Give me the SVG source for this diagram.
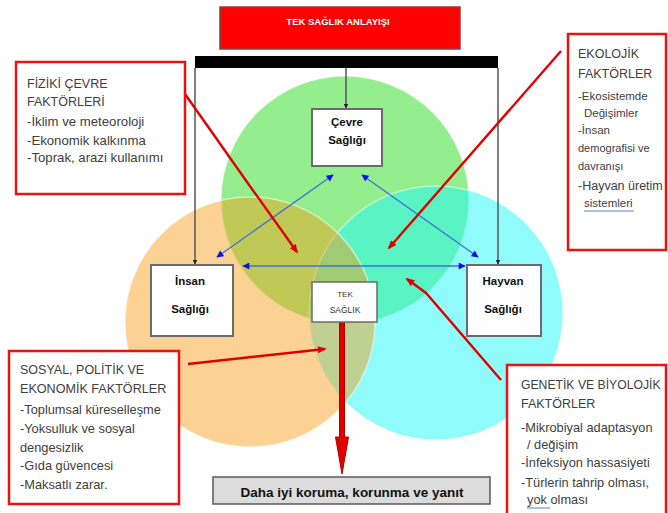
<svg xmlns="http://www.w3.org/2000/svg" width="668" height="513" viewBox="0 0 668 513">
<style>
text{font-family:"Liberation Sans",Arial,sans-serif}
.fbox{fill:#fff;stroke:#ee1111;stroke-width:2.5}
.ft{fill:#404040}
.fi{fill:#404040}
.node{fill:#fff;stroke:#6b6b6b}
.nt{fill:#111;font-size:11.5px;font-weight:bold;text-anchor:middle}
.blk{stroke:#555;stroke-width:1.5;fill:none}
.blue{stroke:#3f72d4;stroke-width:1.3;fill:none}
.red{stroke:#e00000;stroke-width:2.4;fill:none}
.circ{stroke:#fff;stroke-opacity:0.5;stroke-width:1.5}
</style>
<defs>
<marker id="mb" viewBox="0 0 10 10" refX="9" refY="5" markerWidth="5" markerHeight="5" markerUnits="userSpaceOnUse" orient="auto-start-reverse"><path d="M0,0L10,5L0,10z" fill="#222"/></marker>
<marker id="mu" viewBox="0 0 10 10" refX="9" refY="5" markerWidth="8" markerHeight="7" markerUnits="userSpaceOnUse" orient="auto-start-reverse"><path d="M0,0L10,5L0,10z" fill="#1010e0"/></marker>
<marker id="mr" viewBox="0 0 10 10" refX="8" refY="5" markerWidth="9" markerHeight="9" markerUnits="userSpaceOnUse" orient="auto"><path d="M0,1L10,5L0,9z" fill="#e00000"/></marker>
</defs>
<rect width="668" height="513" fill="#fff"/>

<g id="circles">
<circle class="circ" cx="345" cy="200" r="124" fill="#94ee8e"/>
<circle class="circ" cx="436" cy="313" r="127" fill="#1ff7f7" fill-opacity="0.5"/>
<circle class="circ" cx="250" cy="322" r="125" fill="#f99c12" fill-opacity="0.45"/>
</g>

<g id="title">
<rect x="220" y="7" width="240" height="42" fill="#ff0000" stroke="#8c3c3c" stroke-width="1.5"/>
<text x="338" y="25" fill="#fff" font-size="9.5" font-weight="bold" text-anchor="middle">TEK SAĞLIK ANLAYIŞI</text>
</g>

<g id="bar">
<rect x="195" y="56" width="303" height="12" fill="#000"/>
</g>

<g id="connectors">
<line class="blk" x1="195" y1="68" x2="195" y2="264" marker-end="url(#mb)"/>
<line class="blk" x1="498" y1="68" x2="498" y2="264" marker-end="url(#mb)"/>
<line class="blk" x1="346" y1="68" x2="346" y2="108" marker-end="url(#mb)"/>
<line class="blue" x1="333" y1="175" x2="217" y2="257" marker-start="url(#mu)" marker-end="url(#mu)"/>
<line class="blue" x1="362" y1="175" x2="478" y2="257" marker-start="url(#mu)" marker-end="url(#mu)"/>
<line class="blue" x1="243" y1="266" x2="465" y2="266" marker-start="url(#mu)" marker-end="url(#mu)"/>
<polyline class="red" points="185,94 247,182 297,252" marker-end="url(#mr)"/>
<line class="red" x1="561" y1="51" x2="389" y2="248" marker-end="url(#mr)"/>
<polyline class="red" points="501,380 426,293 407,279" marker-end="url(#mr)"/>
<line class="red" x1="188" y1="364" x2="325" y2="349" marker-end="url(#mr)"/>
<path d="M339.5,322H344.5V437H348.5L342,474L335.5,437H339.5Z" fill="#e00000" stroke="#b00000" stroke-width="1"/>
</g>

<g id="cevre">
<rect class="node" x="312" y="109" width="70" height="57" stroke-width="2"/>
<text class="nt" x="347" y="126">Çevre</text>
<text class="nt" x="347" y="144">Sağlığı</text>
</g>

<g id="insan">
<rect class="node" x="151" y="265" width="82" height="71" stroke-width="2"/>
<text class="nt" x="190" y="285">İnsan</text>
<text class="nt" x="190" y="313">Sağlığı</text>
</g>

<g id="hayvan">
<rect class="node" x="467" y="265" width="74" height="71" stroke-width="2"/>
<text class="nt" x="503" y="285">Hayvan</text>
<text class="nt" x="503" y="313">Sağlığı</text>
</g>

<g id="tek">
<rect class="node" x="312" y="282" width="65" height="40" stroke-width="1.5"/>
<text x="345" y="297" fill="#333" font-size="8" text-anchor="middle">TEK</text>
<text x="345" y="313" fill="#333" font-size="8.5" text-anchor="middle">SAĞLIK</text>
</g>

<g id="sonuc">
<rect x="213" y="477" width="277" height="27" fill="#dcdcdc" stroke="#595959" stroke-width="1.5"/>
<text x="352" y="497" fill="#111" font-size="13.5" font-weight="bold" text-anchor="middle">Daha iyi koruma, korunma ve yanıt</text>
</g>

<g id="fiziki">
<rect class="fbox" x="16" y="62" width="169" height="132"/>
<text class="ft" x="27" y="88" font-size="12.5">FİZİKİ ÇEVRE</text>
<text class="ft" x="27" y="106" font-size="12.5">FAKTÖRLERİ</text>
<text class="fi" x="27" y="126" font-size="13.2">-İklim ve meteoroloji</text>
<text class="fi" x="27" y="145" font-size="13.2">-Ekonomik kalkınma</text>
<text class="fi" x="27" y="162" font-size="13.2">-Toprak, arazi kullanımı</text>
</g>

<g id="ekolojik">
<rect class="fbox" x="568" y="34" width="98" height="216"/>
<text class="ft" x="578" y="58" font-size="12.5">EKOLOJİK</text>
<text class="ft" x="578" y="78" font-size="12.5">FAKTÖRLER</text>
<text class="fi" x="578" y="100" font-size="11.5">-Ekosistemde</text>
<text class="fi" x="584" y="117" font-size="11.5">Değişimler</text>
<text class="fi" x="578" y="134" font-size="11.5">-İnsan</text>
<text class="fi" x="578" y="152" font-size="11">demografisi ve</text>
<text class="fi" x="578" y="170" font-size="11">davranışı</text>
<text class="fi" x="578" y="190" font-size="12.5">-Hayvan üretim</text>
<text class="fi" x="584" y="207" font-size="11.5">sistemleri</text>
<line x1="584" y1="211" x2="634" y2="211" stroke="#5b7fd6" stroke-width="1"/>
</g>

<g id="sosyal">
<rect class="fbox" x="9" y="351" width="170" height="153"/>
<text class="ft" x="20" y="374" font-size="12.5">SOSYAL, POLİTİK VE</text>
<text class="ft" x="20" y="393" font-size="12.6">EKONOMİK FAKTÖRLER</text>
<text class="fi" x="20" y="414" font-size="12.8">-Toplumsal küreselleşme</text>
<text class="fi" x="20" y="433" font-size="12.8">-Yoksulluk ve sosyal</text>
<text class="fi" x="20" y="452" font-size="12.8">dengesizlik</text>
<text class="fi" x="20" y="470" font-size="12.8">-Gıda güvencesi</text>
<text class="fi" x="20" y="489" font-size="12.8">-Maksatlı zarar.</text>
</g>

<g id="genetik">
<rect class="fbox" x="507" y="365" width="159" height="160"/>
<text class="ft" x="521" y="389" font-size="12.2">GENETİK VE BİYOLOJİK</text>
<text class="ft" x="521" y="408" font-size="12.5">FAKTÖRLER</text>
<text class="fi" x="521" y="432" font-size="12.8">-Mikrobiyal adaptasyon</text>
<text class="fi" x="527" y="449" font-size="12.8">/ değişim</text>
<text class="fi" x="521" y="467" font-size="12.8">-İnfeksiyon hassasiyeti</text>
<text class="fi" x="521" y="487" font-size="12.8">-Türlerin tahrip olması,</text>
<text class="fi" x="527" y="504" font-size="12.8">yok olması</text>
<line x1="527" y1="508" x2="550" y2="508" stroke="#5b7fd6" stroke-width="1"/>
</g>
</svg>
